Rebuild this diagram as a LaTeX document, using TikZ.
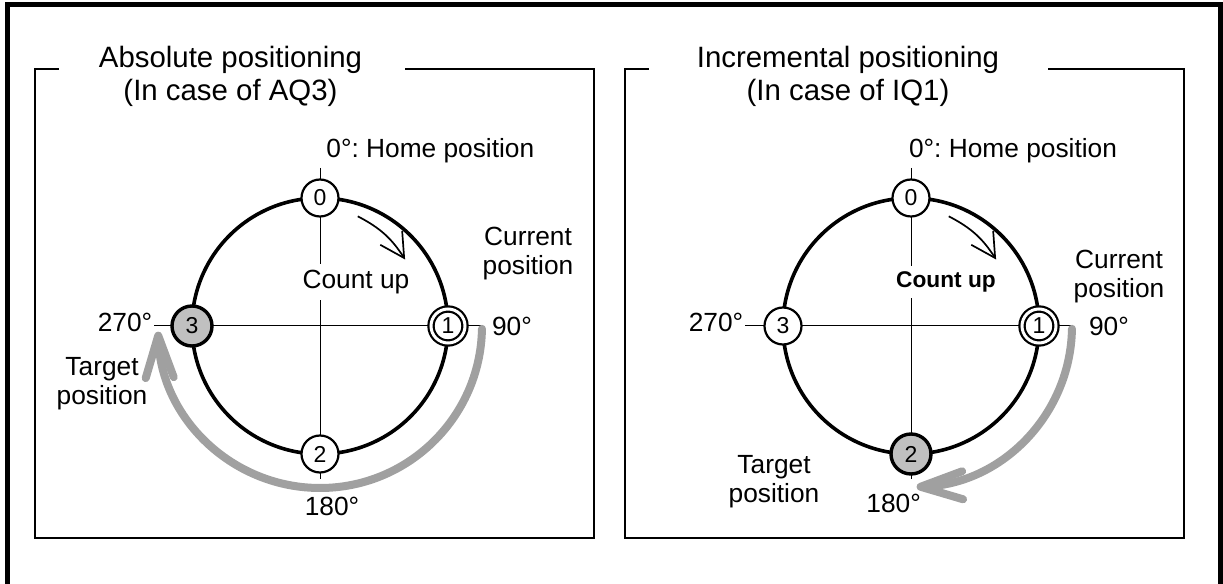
\documentclass[tikz,border=0pt]{standalone}
\usepackage{fontspec}
\setmainfont{Liberation Sans}
\usetikzlibrary{arrows.meta, positioning, calc}
\definecolor{movegray}{RGB}{160,160,160}
\definecolor{goalgray}{RGB}{192,192,192}
\frenchspacing

\begin{document}
\begin{tikzpicture}[x=0.5pt,y=0.5pt,
  title/.style={align=center,font=\fontsize{14.7}{16.5}\selectfont},
  lbl/.style={align=center,font=\fontsize{13.15}{14.5}\selectfont,inner sep=1pt},
  station/.style={circle,draw,line width=1.1pt,fill=white,minimum size=18.5pt,inner sep=0pt,font=\fontsize{11.5}{13}\selectfont},
  current/.style={station,line width=1.1pt,double,double distance=1.5pt,minimum size=17pt},
  target/.style={station,line width=1.7pt,fill=goalgray,minimum size=20pt},
  panel/.style={line width=1pt},
  ring/.style={line width=1.8pt},
  axis/.style={line width=0.5pt},
  count/.style={line width=0.85pt,-{Straight Barb[length=12pt,width=13pt]}},
  move/.style={line width=4pt,movegray,line cap=round,-{Straight Barb[length=21pt,width=14pt,round]}}]
\useasboundingbox (0,0) rectangle (1223,584);
\draw[line width=2.5pt] (7.5,0) -- (7.5,579.8) -- (1220.5,579.8) -- (1220.5,0);

% absolute positioning
\draw[panel] (58.5,515) -- (35,515) -- (35,46) -- (594,46) -- (594,515) -- (405,515);
\node[title] (atitle) at (230.5,507.5) {Absolute positioning\\(In case of AQ3)};
\coordinate (aC) at (320,258);
\coordinate (aN) at (320,416);
\coordinate (aS) at (320,105);
\coordinate (aW) at (154,258);
\coordinate (aE) at (482,258);
\draw[axis] (aN) -- (aS);
\draw[axis] (aW) -- (aE);
\draw[ring] (aC) circle[radius=128];
\node[station] (a0) at (320,386) {0};
\node[current] (a1) at (448,258) {1};
\node[station] (a2) at (320,130) {2};
\node[target] (a3) at (192,258) {3};
\node[lbl,fill=white,inner sep=3pt] (acount) at (356,302) {Count up};
\node[lbl,anchor=west] (ahome) at (324,433) {0°: Home position};
\node[lbl] (acur) at (528,330) {Current\\position};
\node[lbl] (a90) at (512,258) {90°};
\node[lbl] (a270) at (125,262) {270°};
\node[lbl] (atgt) at (102,200) {Target\\position};
\node[lbl] (a180) at (332,77.5) {180°};
\draw[count] ($(aC)+(71:116)$) to[bend left=15] ($(aC)+(38:108)$);
\draw[move] ($(aC)+(-1:162)$) arc[start angle=-1,end angle=-178,radius=162];

% incremental positioning
\draw[panel] (648.5,515) -- (624.5,515) -- (624.5,46) -- (1184,46) -- (1184,515) -- (1048,515);
\node[title] (ititle) at (848,507.5) {Incremental positioning\\(In case of IQ1)};
\coordinate (iC) at (911,258);
\coordinate (iN) at (911,416);
\coordinate (iS) at (911,105);
\coordinate (iW) at (745,258);
\coordinate (iE) at (1073,258);
\draw[axis] (iN) -- (iS);
\draw[axis] (iW) -- (iE);
\draw[ring] (iC) circle[radius=128];
\node[station] (i0) at (911,386) {0};
\node[current] (i1) at (1039,258) {1};
\node[target] (i2) at (911,130) {2};
\node[station] (i3) at (783,258) {3};
\node[lbl,fill=white,inner sep=3pt,font=\fontsize{11.35}{13}\selectfont\bfseries] (icount) at (946,302) {Count up};
\node[lbl,anchor=west] (ihome) at (906.7,433) {0°: Home position};
\node[lbl] (icur) at (1119,307.5) {Current\\position};
\node[lbl] (i90) at (1109,258) {90°};
\node[lbl] (i270) at (716,262) {270°};
\node[lbl] (itgt) at (774,102) {Target\\position};
\node[lbl] (i180) at (893.6,81) {180°};
\draw[count] ($(iC)+(71:116)$) to[bend left=15] ($(iC)+(38:108)$);
\draw[move] ($(iC)+(-1:161)$) arc[start angle=-1,end angle=-88,radius=161];
\end{tikzpicture}
\end{document}
